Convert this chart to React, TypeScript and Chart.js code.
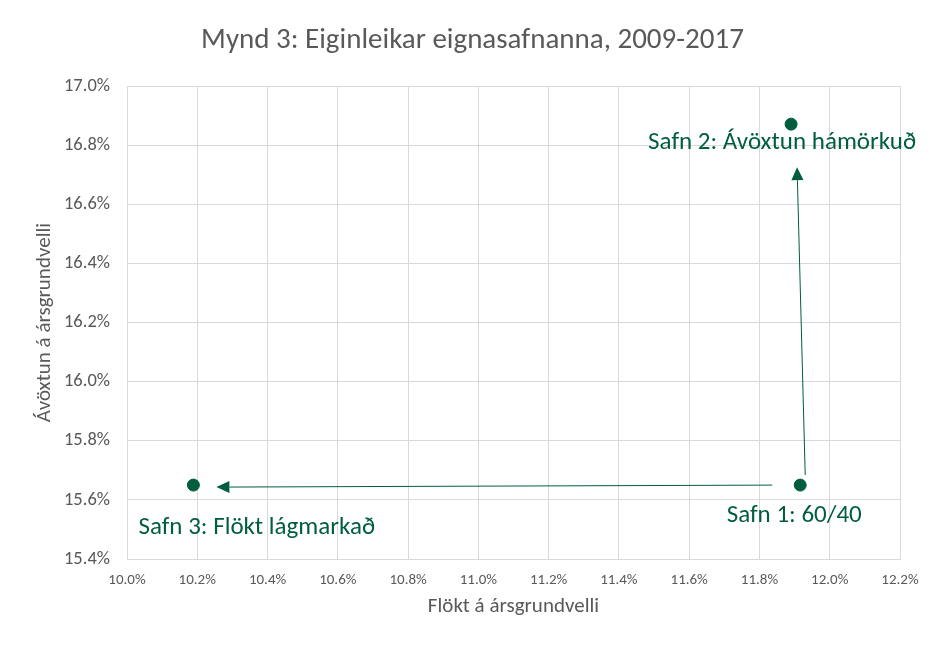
import React, { useEffect, useRef } from "react";
import { Chart, registerables } from "chart.js";

Chart.register(...registerables);

const portfolioNames = ["Safn 1: 60/40", "Safn 2: Ávöxtun hámörkuð", "Safn 3: Flökt lágmarkað"];
const volatility = [11.916, 11.89, 10.189];
const returns = [15.65, 16.871, 15.65];
// arrows connect portfolio indices: from -> to
const arrowFrom = [0, 0];
const arrowTo = [2, 1];

const xTicksMin = 10.0;
const xTicksMax = 12.2;
const yTicksMin = 15.4;
const yTicksMax = 17.0;
const tickStep = 0.2;

const chartTitle = "Mynd 3: Eiginleikar eignasafnanna, 2009-2017";
const xTitle = "Flökt á ársgrundvelli";
const yTitle = "Ávöxtun á ársgrundvelli";

const GREEN = "#005E3D";
const GRAY = "#595959";
const FONT = "Carlito, Lato, 'Open Sans', sans-serif";

export default function App() {
  const ref = useRef<HTMLCanvasElement>(null);
  useEffect(() => {
    document.body.style.margin = "0";
    const canvas = ref.current!;
    const labelOffsets = [
      { dx: -6, dy: 31, align: "center" },
      { dx: -143, dy: 19, align: "left" },
      { dx: -55, dy: 43, align: "left" },
    ];
    const arrowPx = [
      { sx: -28, sy: 0, ex: 23, ey: 2 },
      { sx: 5, sy: -10, ex: 6, ey: 43 },
    ];
    const overlay = {
      id: "overlay",
      afterDatasetsDraw(chart: any) {
        const ctx = chart.ctx;
        const xs = chart.scales.x;
        const ys = chart.scales.y;
        const ca = chart.chartArea;
        ctx.save();
        // arrows
        ctx.strokeStyle = GREEN;
        ctx.fillStyle = GREEN;
        ctx.lineWidth = 1;
        arrowFrom.forEach((f, i) => {
          const t = arrowTo[i];
          const o = arrowPx[i];
          const x1 = xs.getPixelForValue(volatility[f]) + o.sx;
          const y1 = ys.getPixelForValue(returns[f]) + o.sy;
          const x2 = xs.getPixelForValue(volatility[t]) + o.ex;
          const y2 = ys.getPixelForValue(returns[t]) + o.ey;
          const ang = Math.atan2(y2 - y1, x2 - x1);
          const hl = 13, hw = 6;
          const bx = x2 - hl * Math.cos(ang);
          const by = y2 - hl * Math.sin(ang);
          ctx.beginPath();
          ctx.moveTo(x1, y1);
          ctx.lineTo(bx, by);
          ctx.stroke();
          ctx.beginPath();
          ctx.moveTo(x2, y2);
          ctx.lineTo(bx + hw * Math.sin(ang), by - hw * Math.cos(ang));
          ctx.lineTo(bx - hw * Math.sin(ang), by + hw * Math.cos(ang));
          ctx.closePath();
          ctx.fill();
        });
        // point labels
        ctx.font = `25px ${FONT}`;
        ctx.textBaseline = "middle";
        portfolioNames.forEach((n, i) => {
          const o = labelOffsets[i];
          ctx.textAlign = o.align;
          ctx.fillText(n, xs.getPixelForValue(volatility[i]) + o.dx, ys.getPixelForValue(returns[i]) + o.dy);
        });
        // titles
        ctx.fillStyle = GRAY;
        ctx.textAlign = "center";
        ctx.font = `29px ${FONT}`;
        ctx.fillText(chartTitle, chart.width / 2, 41);
        ctx.font = `21px ${FONT}`;
        ctx.fillText(xTitle, (ca.left + ca.right) / 2, 607);
        ctx.translate(45, (ca.top + ca.bottom) / 2);
        ctx.rotate(-Math.PI / 2);
        ctx.fillText(yTitle, 0, 0);
        ctx.restore();
      },
    };
    const chart = new Chart(canvas, {
      type: "scatter",
      data: {
        datasets: [
          {
            data: volatility.map((v, i) => ({ x: v, y: returns[i] })),
            backgroundColor: GREEN,
            borderColor: GREEN,
            pointRadius: 6,
            pointHoverRadius: 6,
          },
        ],
      },
      options: {
        animation: false,
        responsive: false,
        events: [],
        layout: { padding: { top: 86, right: 45, left: 0, bottom: 0 } },
        plugins: { legend: { display: false }, tooltip: { enabled: false }, title: { display: false } },
        scales: {
          x: {
            type: "linear",
            min: xTicksMin,
            max: xTicksMax,
            afterFit: (s: any) => { s.height = 91; },
            afterBuildTicks: (s: any) => {
              const t = [];
              for (let i = 0; i <= Math.round((xTicksMax - xTicksMin) / tickStep); i++) t.push({ value: +(xTicksMin + i * tickStep).toFixed(1) });
              s.ticks = t;
            },
            grid: { color: "#d9d9d9", lineWidth: 1, drawTicks: false },
            border: { color: "#d9d9d9" },
            ticks: {
              color: GRAY,
              padding: 12,
              maxRotation: 0,
              font: { family: FONT, size: 15 },
              callback: (v: any) => Number(v).toFixed(1) + "%",
            },
          },
          y: {
            type: "linear",
            min: yTicksMin,
            max: yTicksMax,
            afterFit: (s: any) => { s.width = 127; },
            afterBuildTicks: (s: any) => {
              const t = [];
              for (let i = 0; i <= Math.round((yTicksMax - yTicksMin) / tickStep); i++) t.push({ value: +(yTicksMin + i * tickStep).toFixed(1) });
              s.ticks = t;
            },
            grid: { color: "#d9d9d9", lineWidth: 1, drawTicks: false },
            border: { color: "#d9d9d9" },
            ticks: {
              color: GRAY,
              padding: 17,
              font: { family: FONT, size: 18.5 },
              callback: (v: any) => Number(v).toFixed(1) + "%",
            },
          },
        },
      },
      plugins: [overlay],
    });
    return () => chart.destroy();
  }, []);
  return <canvas ref={ref} width={945} height={650} style={{ display: "block" }} />;
}
